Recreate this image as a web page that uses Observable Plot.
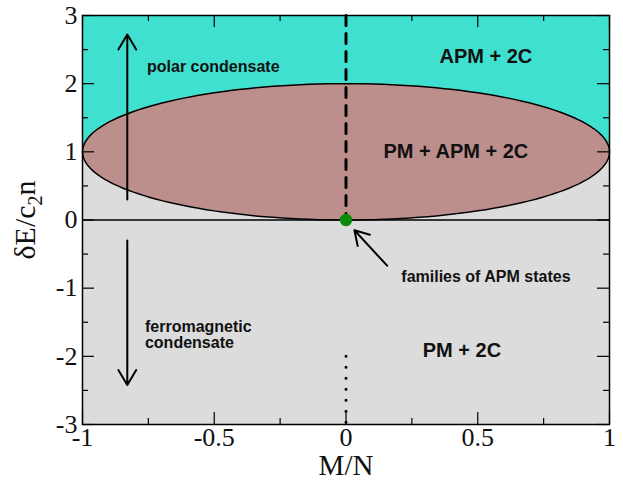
<!DOCTYPE html>
<html>
<head>
<meta charset="utf-8">
<script src="https://cdn.jsdelivr.net/npm/d3@7"></script>
<script src="https://cdn.jsdelivr.net/npm/@observablehq/plot@0.6"></script>
<style>
  body { margin: 0; background: #fff; }
</style>
</head>
<body>
<div id="chart"></div>
<script>
// ---- data ----
const xDomain = [-1, 1];
const yDomain = [-3, 3];
const xMajor = [-1, -0.5, 0, 0.5, 1];
const xMinor = [-0.75, -0.25, 0.25, 0.75];
const yMajor = [-3, -2, -1, 0, 1, 2, 3];
const yMinor = [-2.5, -1.5, -0.5, 0.5, 1.5, 2.5];
const xTickLabels = ["-1", "-0.5", "0", "0.5", "1"];
const yTickLabels = ["-3", "-2", "-1", "0", "1", "2", "3"];
const regions = [
  {name: "APM + 2C", x1: -1, x2: 1, y1: 1, y2: 3, color: "#40e0d0"},
  {name: "PM + 2C", x1: -1, x2: 1, y1: -3, y2: 1, color: "#dcdcdc"}
];
const ellipseCenter = [0, 1];
const ellipseRadii = [1, 1];
const ellipseColor = "#bc8f8d";
const dashedLine = [{x: 0, y: 3}, {x: 0, y: 0}];
const dottedLine = [{x: 0, y: -2}, {x: 0, y: -3}];
const apmPoint = [{x: 0, y: 0}];
const arrows = [
  {x1: -0.83, y1: 0.3, x2: -0.83, y2: 2.72},
  {x1: -0.83, y1: -0.3, x2: -0.83, y2: -2.42},
  {x1: 0.156, y1: -0.67, x2: 0.032, y2: -0.15}
];
const labelsStart = [
  {text: "polar condensate", x: -0.755, y: 2.25, size: 16},
  {text: "ferromagnetic\ncondensate", x: -0.763, y: -1.685, size: 16}
];
const labelsMiddle = [
  {text: "APM + 2C", x: 0.531, y: 2.40, size: 20},
  {text: "PM + APM + 2C", x: 0.417, y: 1.0, size: 20},
  {text: "families of APM states", x: 0.531, y: -0.83, size: 16},
  {text: "PM + 2C", x: 0.44, y: -1.91, size: 20}
];
const xLabel = "M/N";
const yLabel = "δE/c₂n";

// ---- ellipse boundary sampled by angle ----
const thetas = d3.range(0, 361, 2).map(d => d * Math.PI / 180);
const ellipse = thetas.map(t => ({
  x: ellipseCenter[0] + ellipseRadii[0] * Math.cos(t),
  y: ellipseCenter[1] + ellipseRadii[1] * Math.sin(t)
}));
const ellipseBand = d3.range(0, 181, 2).map(a => {
  const t = a * Math.PI / 180;
  const x = ellipseCenter[0] + ellipseRadii[0] * Math.cos(t);
  const h = ellipseRadii[1] * Math.sin(t);
  return {x, y1: ellipseCenter[1] - h, y2: ellipseCenter[1] + h};
});

const W = 623, H = 481;
const mL = 82, mR = 14, mT = 15, mB = 57;
const innerH = H - mT - mB;
const innerW = W - mL - mR;
const major = 12, minor = 6;
const sans = "Liberation Sans, Arial, Helvetica, sans-serif";
const serif = "Liberation Serif, Times New Roman, serif";

const plot = Plot.plot({
  width: W,
  height: H,
  marginLeft: mL,
  marginRight: mR,
  marginTop: mT,
  marginBottom: mB,
  x: {domain: xDomain, axis: null},
  y: {domain: yDomain, axis: null},
  style: {background: "#fff", overflow: "visible"},
  marks: [
    Plot.rect(regions, {x1: "x1", x2: "x2", y1: "y1", y2: "y2", fill: "color"}),
    Plot.areaY(ellipseBand, {x: "x", y1: "y1", y2: "y2", fill: ellipseColor, curve: "linear"}),
    Plot.line(ellipse, {x: "x", y: "y", stroke: "black", strokeWidth: 1.5}),
    Plot.ruleY([0], {stroke: "black", strokeWidth: 1.5}),
    Plot.line(dashedLine, {x: "x", y: "y", stroke: "black", strokeWidth: 3, strokeDasharray: "10,8"}),
    Plot.line(dottedLine, {x: "x", y: "y", stroke: "black", strokeWidth: 3, strokeDasharray: "0,11", strokeLinecap: "round"}),
    // ticks inside, mirrored on all sides
    Plot.ruleX(xMajor, {x: d => d, insetTop: innerH - major, stroke: "black", strokeWidth: 1.2}),
    Plot.ruleX(xMajor, {x: d => d, insetBottom: innerH - major, stroke: "black", strokeWidth: 1.2}),
    Plot.ruleX(xMinor, {x: d => d, insetTop: innerH - minor, stroke: "black", strokeWidth: 1.2}),
    Plot.ruleX(xMinor, {x: d => d, insetBottom: innerH - minor, stroke: "black", strokeWidth: 1.2}),
    Plot.ruleY(yMajor, {y: d => d, insetRight: innerW - major, stroke: "black", strokeWidth: 1.2}),
    Plot.ruleY(yMajor, {y: d => d, insetLeft: innerW - major, stroke: "black", strokeWidth: 1.2}),
    Plot.ruleY(yMinor, {y: d => d, insetRight: innerW - minor, stroke: "black", strokeWidth: 1.2}),
    Plot.ruleY(yMinor, {y: d => d, insetLeft: innerW - minor, stroke: "black", strokeWidth: 1.2}),
    Plot.dot(apmPoint, {x: "x", y: "y", r: 5.5, fill: "#0b8a0b", stroke: "#0b8a0b"}),
    Plot.arrow(arrows, {x1: "x1", y1: "y1", x2: "x2", y2: "y2", stroke: "black", strokeWidth: 2, headLength: 13, headAngle: 62}),
    Plot.text(labelsStart, {x: "x", y: "y", text: "text", fontSize: "size", textAnchor: "start",
      fontFamily: sans, fontWeight: "bold", fill: "#111", lineHeight: 1}),
    Plot.text(labelsMiddle, {x: "x", y: "y", text: "text", fontSize: "size", textAnchor: "middle",
      fontFamily: sans, fontWeight: "bold", fill: "#111", lineHeight: 1}),
    Plot.frame({stroke: "black", strokeWidth: 1.5}),
    // tick labels
    Plot.text(xMajor, {x: d => d, frameAnchor: "bottom", lineAnchor: "top", dy: 3, textAnchor: "middle",
      text: (d, i) => xTickLabels[i], fontSize: 26, fontFamily: serif, fill: "#111"}),
    Plot.text(yMajor, {y: d => d, frameAnchor: "left", lineAnchor: "middle", dx: -5, textAnchor: "end",
      text: (d, i) => yTickLabels[i], fontSize: 26, fontFamily: serif, fill: "#111"}),
    Plot.text([xLabel], {frameAnchor: "bottom", lineAnchor: "bottom", dy: 50, textAnchor: "middle",
      text: d => d, fontSize: 29, fontFamily: serif, fill: "#111"}),
    Plot.text([yLabel], {frameAnchor: "left", dx: -57, rotate: -90, textAnchor: "middle",
      text: d => d, fontSize: 30, fontFamily: serif, fill: "#111", className: "ylab"})
  ]
});

document.getElementById("chart").appendChild(plot);

// render the subscript in the y label
const yl = plot.querySelector(".ylab text");
if (yl) {
  yl.textContent = "";
  const ns = "http://www.w3.org/2000/svg";
  const a = document.createElementNS(ns, "tspan"); a.textContent = "δE/c";
  const b = document.createElementNS(ns, "tspan"); b.textContent = "2";
  b.setAttribute("font-size", "20"); b.setAttribute("dy", "7");
  const c = document.createElementNS(ns, "tspan"); c.textContent = "n"; c.setAttribute("dy", "-7");
  yl.append(a, b, c);
}
</script>
</body>
</html>
